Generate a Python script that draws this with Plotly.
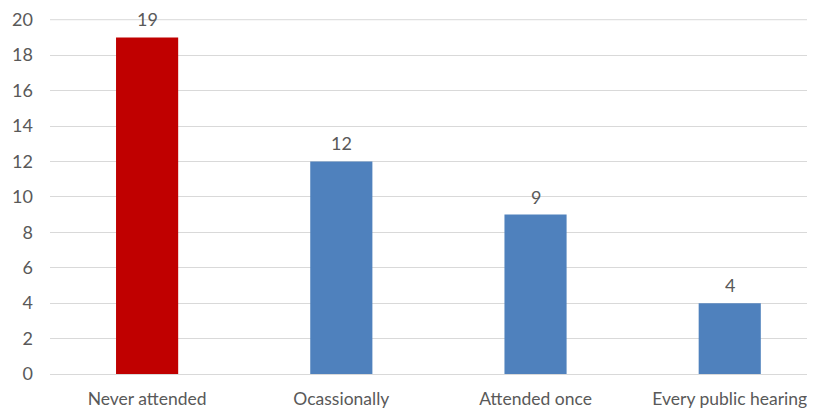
import plotly.graph_objects as go

categories = ["Never attended", "Ocassionally", "Attended once", "Every public hearing"]
values = [19, 12, 9, 4]
colors = ["#C00000", "#4F81BD", "#4F81BD", "#4F81BD"]
y_ticks = [0, 2, 4, 6, 8, 10, 12, 14, 16, 18, 20]

FONT = "Lato, Calibri, Carlito, sans-serif"
GREY = "#595959"
FS = 18

fig = go.Figure()
fig.add_trace(go.Bar(x=categories, y=values, marker=dict(color=colors, line=dict(width=0)),
                     hoverinfo="x+y"))

for c, v in zip(categories, values):
    fig.add_annotation(x=c, y=v, text=str(v), showarrow=False, yanchor="bottom",
                       yshift=5, font=dict(family=FONT, size=FS, color=GREY))

# top gridline (sits on the plot edge, so draw it explicitly)
fig.add_shape(type="line", xref="paper", x0=0, x1=1, yref="y", y0=y_ticks[-1], y1=y_ticks[-1],
              line=dict(color="#D9D9D9", width=1), layer="below")

# page body has an 8px default margin, so the figure is sized/offset to compensate
fig.update_layout(
    width=807, height=404,
    margin=dict(l=42, r=0, t=11, b=38, autoexpand=False),
    paper_bgcolor="white", plot_bgcolor="white",
    bargap=0.68,
    showlegend=False,
    font=dict(family=FONT, size=FS, color=GREY),
    xaxis=dict(range=[-0.5, 3.439], showgrid=False, showline=False, ticks="",
               automargin=False, ticklabelstandoff=12,
               tickfont=dict(family=FONT, size=17.5, color=GREY)),
    yaxis=dict(range=[0, 20.04], tickvals=y_ticks, showgrid=True, gridcolor="#D9D9D9",
               gridwidth=1, zeroline=True, zerolinecolor="#D9D9D9", zerolinewidth=1,
               showline=False, ticks="", ticklabelstandoff=16, automargin=False,
               tickfont=dict(family=FONT, size=FS, color=GREY)),
)

fig.write_html("out.html")
